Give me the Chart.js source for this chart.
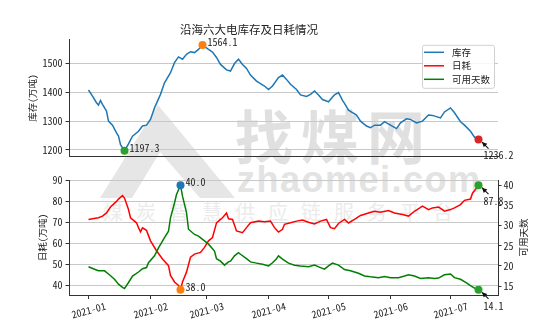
<!DOCTYPE html>
<html>
<head>
<meta charset="utf-8">
<script src="https://cdn.jsdelivr.net/npm/chart.js@4.4.0/dist/chart.umd.min.js"></script>
<style>
body{margin:0;background:#fff}
#wrap{position:relative;width:554px;height:333px;overflow:hidden}
#wrap svg,#wrap canvas{position:absolute;left:0}
#wm{top:0}
#topChart{top:0}
#bottomChart{top:160px}
</style>
</head>
<body>
<div id="wrap">
<svg id="wm" width="554" height="333">
  <path d="M100,198 L158,105 L235,198 Z M132,198 L160,152 L200,198 Z" fill="#e6e6e6" fill-rule="evenodd"/>
  <text x="235" y="159" font-family="Noto Sans CJK SC" font-weight="bold" font-size="58" letter-spacing="8" fill="#e0e0e0">找煤网</text>
  <text x="237" y="192" font-family="Liberation Sans" font-weight="bold" font-size="36" letter-spacing="1.5" fill="#e3e3e3">zhaomei.com</text>
  <text x="103" y="220" font-family="Noto Sans CJK SC" font-size="20" letter-spacing="13" fill="#ebebeb">煤炭智慧供应链服务平台</text>
</svg>
<canvas id="topChart" width="554" height="170"></canvas>
<canvas id="bottomChart" width="554" height="173"></canvas>
</div>
<script>
const FONT='"Noto Sans Mono CJK SC","Noto Sans CJK SC",sans-serif'
Chart.defaults.font.family=FONT
Chart.defaults.color='#222'

const YEAR=2021
const monthTicks=['2021-01','2021-02','2021-03','2021-04','2021-05','2021-06','2021-07']
const stockTicks=[1200,1300,1400,1500]
const useTicks=[40,50,60,70,80,90]
const daysTicks=[15,20,25,30,35,40]
const seriesNames=['库存','日耗','可用天数']
const seriesColors=['#1f77b4','#ff0000','#008000']

// 库存 (万吨)
const stockDates=['01-01','01-03','01-05','01-06','01-07','01-08','01-10','01-11','01-13','01-15','01-16','01-17','01-19','01-21','01-23','01-26','01-28','01-30',
'02-01','02-03','02-06','02-08','02-11','02-13','02-15','02-17','02-19','02-21','02-23','02-25','02-27',
'03-02','03-04','03-06','03-08','03-11','03-13','03-15','03-17','03-19','03-21','03-23','03-26','03-28','03-30',
'04-01','04-03','04-06','04-08','04-10','04-12','04-15','04-17','04-20','04-22','04-24','04-26','04-28','04-30',
'05-01','05-03','05-04','05-06','05-08','05-09','05-11','05-15','05-17','05-20','05-22','05-24','05-27','05-29',
'06-01','06-04','06-06','06-09','06-11','06-14','06-17','06-20','06-22','06-26','06-28',
'07-01','07-03','07-06','07-08','07-11','07-13','07-15']
const stockValues=[1408,1387,1364,1356,1372,1358,1335,1300,1286,1259,1248,1218,1197.3,1221,1248,1265,1283,1286,
1306,1346,1393,1433,1468,1503,1523,1515,1532,1541,1538,1549,1564.1,
1549,1540,1521,1497,1478,1474,1500,1515,1497,1483,1460,1439,1430,1422,
1410,1422,1451,1460,1445,1428,1410,1391,1386,1393,1405,1391,1375,1370,
1367,1384,1391,1399,1372,1362,1338,1321,1300,1283,1277,1286,1286,1298,
1286,1274,1294,1308,1306,1294,1300,1321,1320,1311,1332,
1346,1329,1298,1286,1265,1244,1236.2]

// 日耗 (万吨)
const useDates=['01-01','01-03','01-06','01-08','01-10','01-12','01-15','01-16','01-18','01-19','01-21','01-22','01-25','01-26','01-27','01-28','01-30',
'02-01','02-04','02-07','02-10','02-11','02-13','02-15','02-16','02-17','02-19','02-21','02-23','02-26','02-28',
'03-02','03-04','03-06','03-08','03-09','03-11','03-12','03-14','03-16','03-19','03-21','03-23','03-27','03-30',
'04-02','04-04','04-06','04-08','04-09','04-12','04-15','04-18','04-21','04-24','04-27','04-30',
'05-02','05-04','05-06','05-09','05-11','05-14','05-17','05-21','05-24','05-27','05-31',
'06-03','06-07','06-10','06-13','06-17','06-20','06-22','06-25','06-27','06-28',
'07-01','07-03','07-06','07-08','07-11','07-12','07-14','07-15']
const useValues=[71.5,71.8,72.3,73.1,74.6,77.4,80.1,81.2,82.9,81.7,76.2,72.3,69.9,67.6,65.6,67.5,66.3,
61.3,56.6,52.7,49.5,44.8,41.7,40.1,38.0,41.7,46.4,53.5,55,55.8,58.2,
61.3,62.9,69.9,71.5,72.3,74.6,71.8,71.5,66,65.2,67.6,69.9,70.7,70.4,
70.7,67.6,65.5,66.8,69.2,69.9,70.7,71.2,70.2,69.4,70.7,71.5,
67.6,67.1,69.6,71.5,69.8,71.5,73.4,74.6,75.4,74.9,75.7,
74.6,73.9,73.1,75.4,77.8,76.2,77,77.4,76.2,75.4,
76.2,77,78.6,80.6,81.2,84,86.4,87.8]

// 可用天数
const daysDates=['01-01','01-04','01-06','01-09','01-11','01-14','01-16','01-18','01-19','01-21','01-23','01-26','01-28','01-30','01-31',
'02-03','02-05','02-08','02-10','02-11','02-13','02-14','02-16','02-17','02-19','02-20','02-23','02-25','02-28',
'03-02','03-05','03-06','03-08','03-10','03-12','03-13','03-15','03-17','03-18','03-21','03-23','03-26','03-29',
'04-01','04-03','04-05','04-06','04-08','04-11','04-14','04-17','04-21','04-24','04-27','04-29',
'05-01','05-03','05-06','05-09','05-12','05-16','05-19','05-22','05-26','05-29',
'06-01','06-05','06-08','06-10','06-13','06-16','06-20','06-23','06-25','06-28',
'07-01','07-03','07-06','07-09','07-11','07-14','07-15']
const daysValues=[19.8,19.2,18.8,18.8,18,16.7,15.5,14.7,14.4,15.9,17.5,18.5,19.3,19.6,20.8,
22.5,24.5,27,28.6,31.9,35.6,37.7,40.0,37.3,33.2,29.1,27.8,27.4,26.2,
25.4,23.7,21.8,21.2,20.2,21,21.2,22.5,23.3,22.9,21.8,21,20.7,20.4,
20,20.8,21.8,22.5,21.7,20.7,20.2,20,19.8,20.2,19.6,19.2,
20,20.7,20.2,19.1,18.8,18.2,17.5,17.3,17.1,17.4,
17.1,17.1,17.5,17.8,17.5,16.9,17.1,16.9,17,17.8,
18,17.1,16.7,15.8,15.1,14.2,14.1]

function dayOf(md){
  const [m,d]=md.split('-').map(Number)
  return (Date.UTC(YEAR,m-1,d)-Date.UTC(YEAR,0,1))/864e5
}
function pts(dates,vals){return dates.map((d,i)=>({x:dayOf(d),y:vals[i]}))}
// matplotlib-like 5% margins
function padRange(vals){
  const lo=Math.min(...vals),hi=Math.max(...vals),m=(hi-lo)*0.05
  return [lo-m,hi+m]
}
const fixTicks=list=>s=>{s.ticks=list.map(v=>({value:v}))}
const tickDays=monthTicks.map(t=>dayOf(t.slice(5)+'-01'))

const stockPts=pts(stockDates,stockValues)
const usePts=pts(useDates,useValues)
const daysPts=pts(daysDates,daysValues)
const xr=padRange([...stockPts,...usePts,...daysPts].map(p=>p.x))

const last=a=>a[a.length-1]
const topMarks=[
  {p:stockPts[stockValues.indexOf(Math.min(...stockValues))],axis:'y',color:'#2ca02c'},
  {p:stockPts[stockValues.indexOf(Math.max(...stockValues))],axis:'y',color:'#ff7f0e'},
  {p:last(stockPts),axis:'y',color:'#d62728',arrow:true}
]
const leftMarks=[
  {p:usePts[useValues.indexOf(Math.min(...useValues))],axis:'y',color:'#ff7f0e'},
  {p:last(usePts),axis:'y',color:'#2ca02c',arrow:true}
]
const rightMarks=[
  {p:daysPts[daysValues.indexOf(Math.max(...daysValues))],axis:'y2',color:'#1f77b4'},
  {p:last(daysPts),axis:'y2',color:'#2ca02c',arrow:true}
]

function markSet(marks,axis){
  return {data:marks.map(m=>m.p),yAxisID:axis,showLine:false,pointRadius:4,pointHoverRadius:4,
    pointBorderWidth:0,pointBackgroundColor:marks.map(m=>m.color),clip:false}
}

function arrow(ctx,x1,y1,x2,y2){
  const a=Math.atan2(y2-y1,x2-x1)
  ctx.beginPath();ctx.moveTo(x1,y1);ctx.lineTo(x2,y2);ctx.stroke()
  ctx.beginPath()
  ctx.moveTo(x2,y2)
  ctx.lineTo(x2-5*Math.cos(a)+2.5*Math.sin(a),y2-5*Math.sin(a)-2.5*Math.cos(a))
  ctx.lineTo(x2-5*Math.cos(a)-2.5*Math.sin(a),y2-5*Math.sin(a)+2.5*Math.cos(a))
  ctx.closePath();ctx.fill()
}

// value text next to the highlighted points
const markLabels={
  id:'markLabels',
  afterDatasetsDraw(chart,args,opts){
    const ctx=chart.ctx
    ctx.save()
    ctx.font='10px '+FONT
    ctx.fillStyle='#222';ctx.strokeStyle='#111';ctx.lineWidth=1.1
    ctx.textAlign='left';ctx.textBaseline='middle'
    opts.items.forEach(m=>{
      const px=chart.scales.x.getPixelForValue(m.p.x)
      const py=chart.scales[m.axis].getPixelForValue(m.p.y)
      const txt=m.p.y.toFixed(1)
      if(m.arrow){
        ctx.fillStyle='#111'
        arrow(ctx,px+10,py+9,px+3.5,py+2.5)
        ctx.fillStyle='#222'
        ctx.fillText(txt,px+5,py+16)
      }else{
        ctx.fillText(txt,px+5,py-3)
      }
    })
    ctx.restore()
  }
}

const legendBox={
  id:'legendBox',
  afterDraw(chart){
    const ctx=chart.ctx,a=chart.chartArea
    const w=72,h=43,x=a.right-4-w,y=a.top+5
    ctx.save()
    ctx.fillStyle='rgba(255,255,255,0.85)'
    ctx.strokeStyle='#d0d0d0';ctx.lineWidth=1
    ctx.beginPath();ctx.roundRect(x+0.5,y+0.5,w,h,2);ctx.fill();ctx.stroke()
    ctx.font='9.5px '+FONT
    ctx.textBaseline='middle';ctx.textAlign='left'
    seriesNames.forEach((n,i)=>{
      const ly=y+7.5+i*13.5
      ctx.strokeStyle=seriesColors[i];ctx.lineWidth=1.5
      ctx.beginPath();ctx.moveTo(x+2,ly);ctx.lineTo(x+22,ly);ctx.stroke()
      ctx.fillStyle='#222'
      ctx.fillText(n,x+30,ly)
    })
    ctx.restore()
  }
}

// right axis label, read bottom-to-top like the left one
const rightTitle={
  id:'rightTitle',
  afterDraw(chart){
    const ctx=chart.ctx,a=chart.chartArea
    ctx.save()
    ctx.translate(a.right+25,(a.top+a.bottom)/2)
    ctx.rotate(-Math.PI/2)
    ctx.font='9.5px '+FONT
    ctx.fillStyle='#222';ctx.textAlign='center';ctx.textBaseline='middle'
    ctx.fillText('可用天数',0,0)
    ctx.restore()
  }
}

const sr=padRange(stockValues)
new Chart('topChart',{
  type:'line',
  data:{datasets:[
    markSet(topMarks,'y'),
    {label:seriesNames[0],data:stockPts,borderColor:seriesColors[0],borderWidth:1.5,pointRadius:0}
  ]},
  options:{
    responsive:false,animation:false,
    layout:{padding:{left:0,right:56,top:0,bottom:0}},
    plugins:{
      legend:{display:false},tooltip:{enabled:false},
      title:{display:true,text:'沿海六大电库存及日耗情况',color:'#222',font:{size:11.5,weight:'normal'},padding:{top:23,bottom:3}},
      markLabels:{items:topMarks}
    },
    scales:{
      x:{type:'linear',min:xr[0],max:xr[1],
        ticks:{display:false},grid:{display:false},
        border:{display:true,color:'#333'},
        afterFit(s){s.height=14}},
      y:{min:sr[0],max:sr[1],
        afterBuildTicks:fixTicks(stockTicks),
        ticks:{padding:3,font:{size:10},callback:v=>String(v)},
        grid:{color:'#c8c8c8',tickColor:'#333',tickLength:3.5},
        border:{display:true,color:'#333'},
        title:{display:true,text:'库存(万吨)',font:{size:9.5},padding:{top:27,bottom:0}},
        afterFit(s){s.width=69}}
    }
  },
  plugins:[markLabels,legendBox]
})

const ur=padRange(useValues)
const dr=padRange(daysValues)
new Chart('bottomChart',{
  type:'line',
  data:{datasets:[
    markSet(rightMarks,'y2'),
    markSet(leftMarks,'y'),
    {label:seriesNames[2],data:daysPts,yAxisID:'y2',borderColor:seriesColors[2],borderWidth:1.5,pointRadius:0},
    {label:seriesNames[1],data:usePts,yAxisID:'y',borderColor:seriesColors[1],borderWidth:1.5,pointRadius:0}
  ]},
  options:{
    responsive:false,animation:false,
    layout:{padding:{left:0,right:0,top:20,bottom:0}},
    plugins:{
      legend:{display:false},tooltip:{enabled:false},
      markLabels:{items:[...leftMarks,...rightMarks]}
    },
    scales:{
      x:{type:'linear',min:xr[0],max:xr[1],
        afterBuildTicks:fixTicks(tickDays),
        ticks:{autoSkip:false,minRotation:15,maxRotation:15,labelOffset:17,padding:1,font:{size:10},
          callback:(v,i)=>monthTicks[i]},
        grid:{display:true,drawOnChartArea:false,tickColor:'#333',tickLength:4},
        border:{display:true,color:'#333'},
        afterFit(s){s.height=38}},
      y:{position:'left',min:ur[0],max:ur[1],
        afterBuildTicks:fixTicks(useTicks),
        ticks:{padding:3,font:{size:10},callback:v=>String(v)},
        grid:{color:'#c8c8c8',tickColor:'#333',tickLength:3.5},
        border:{display:true,color:'#333'},
        title:{display:true,text:'日耗(万吨)',font:{size:9.5},padding:{top:37,bottom:0}},
        afterFit(s){s.width=69}},
      y2:{position:'right',min:dr[0],max:dr[1],
        afterBuildTicks:fixTicks(daysTicks),
        ticks:{padding:2,font:{size:10},callback:v=>String(v)},
        grid:{drawOnChartArea:false,tickColor:'#333',tickLength:3.5},
        border:{display:true,color:'#333'},
        afterFit(s){s.width=56}}
    }
  },
  plugins:[markLabels,rightTitle]
})
</script>
</body>
</html>
